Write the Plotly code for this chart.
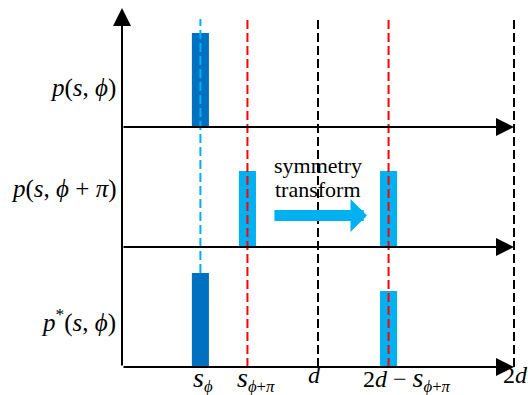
import plotly.graph_objects as go
from plotly.subplots import make_subplots

# ---------------- data ----------------
d = 1.0
s_phi = 0.40                 # position of p(s, phi) impulse
s_phi_pi = 0.64              # position of p(s, phi+pi) impulse
s_mirror = 2 * d - s_phi_pi  # 2d - s_{phi+pi}
h_phi = 0.94                 # height of p(s, phi)
h_phi_pi = 0.76              # height of p(s, phi+pi)

panel_x = [[s_phi], [s_phi_pi, s_mirror], [s_phi, s_mirror]]
panel_y = [[h_phi], [h_phi_pi, h_phi_pi], [h_phi, h_phi_pi]]
panel_kind = [["dark"], ["light", "light"], ["dark", "light"]]

panel_labels = [
    "<i>p</i>(<i>s</i>, <i>ϕ</i>)",
    "<i>p</i>(<i>s</i>, <i>ϕ</i> + <i>π</i>)",
    "<i>p</i><sup>*</sup>(<i>s</i>, <i>ϕ</i>)",
]
S = '<span style="font-size:28px;font-style:italic">s</span>'
tick_vals = [s_phi, s_phi_pi, d, s_mirror, 2 * d]
tick_text = [
    S + "<sub><i>ϕ</i></sub>",
    S + "<sub><i>ϕ</i>+<i>π</i></sub>",
    "<i>d</i>",
    "2<i>d</i> − " + S + "<sub><i>ϕ</i>+<i>π</i></sub>",
    "2<i>d</i>",
]

# ---------------- style ----------------
DARK = "#0070C0"
LIGHT = "#00B0F0"
RED = "#FF0000"
FONT = "Liberation Serif"
colors = {"dark": DARK, "light": LIGHT}
bar_w = 0.087
y_max = 1.2
x_max = 2.0714
label_y = [0.39, 0.58, 0.47]
tick_shift = [3, 9, -4, 18, 1]

fig = make_subplots(rows=3, cols=1, shared_xaxes=True, vertical_spacing=0)

for i in range(3):
    fig.add_trace(
        go.Bar(
            x=panel_x[i], y=panel_y[i], width=bar_w,
            marker=dict(color=[colors[k] for k in panel_kind[i]], line=dict(width=0)),
            showlegend=False, hoverinfo="skip",
        ),
        row=i + 1, col=1,
    )

for i in range(3):
    fig.update_xaxes(range=[0, x_max], visible=False, row=i + 1, col=1)
    fig.update_yaxes(range=[0, y_max], visible=False, row=i + 1, col=1)

top_line = 0.9667
shapes = []
shapes.append(dict(type="line", xref="x3", yref="paper", x0=s_phi, x1=s_phi,
                   y0=(h_phi / y_max) / 3, y1=top_line,
                   line=dict(color=LIGHT, width=2, dash="9px,4px"), layer="above"))
for xv, col in [(s_phi_pi, RED), (d, "black"), (s_mirror, RED), (2 * d, "black")]:
    shapes.append(dict(type="line", xref="x3", yref="paper", x0=xv, x1=xv,
                       y0=0, y1=top_line,
                       line=dict(color=col, width=2, dash="9px,4px"), layer="above"))
fig.update_layout(shapes=shapes)

ann = []
ann.append(dict(xref="paper", yref="paper", x=0, y=0.997, ax=0, ay=359,
                showarrow=True, arrowhead=2, arrowsize=1.8, arrowwidth=2,
                arrowcolor="black", text="", standoff=0))
for i in range(3):
    n = "" if i == 0 else str(i + 1)
    ann.append(dict(xref="x" + n, yref="y" + n, x=2 * d, y=0,
                    axref="x" + n, ayref="y" + n, ax=0, ay=0,
                    showarrow=True, arrowhead=2, arrowsize=1.8, arrowwidth=2,
                    arrowcolor="black", text="", standoff=0))
for i in range(3):
    n = "" if i == 0 else str(i + 1)
    ann.append(dict(xref="paper", yref="y" + n, x=0, y=label_y[i],
                    xanchor="right", yanchor="middle", xshift=-4,
                    text=panel_labels[i], showarrow=False,
                    font=dict(family=FONT, size=25, color="black")))
for xv, t, sh in zip(tick_vals, tick_text, tick_shift):
    ann.append(dict(xref="x3", yref="y3", x=xv, y=0, xanchor="center",
                    yanchor="top", xshift=sh, yshift=7, text=t, showarrow=False,
                    font=dict(family=FONT, size=24, color="black")))
ann.append(dict(xref="x2", yref="y2", x=1.25, y=0.315, axref="x2", ayref="y2",
                ax=0.77, ay=0.315, showarrow=True, arrowhead=1, arrowsize=0.5,
                arrowwidth=11, arrowcolor=LIGHT, text="", standoff=0))
ann.append(dict(xref="x2", yref="y2", x=0.77 + 0.23, y=0.82, xanchor="center",
                yanchor="middle", text="symmetry", showarrow=False,
                font=dict(family=FONT, size=22, color="black")))
ann.append(dict(xref="x2", yref="y2", x=0.77 + 0.23, y=0.58, xanchor="center",
                yanchor="middle", text="transform", showarrow=False,
                font=dict(family=FONT, size=22, color="black")))

fig.update_layout(
    annotations=ann,
    width=528, height=395,
    margin=dict(l=122, r=0, t=7, b=28),
    paper_bgcolor="white", plot_bgcolor="white",
    barmode="overlay", showlegend=False,
)

# remove the default 8px page margin so the 528x395 figure fills the window exactly
fig.write_html("out.html", config={"displayModeBar": False},
               post_script="document.body.style.margin='0';")
